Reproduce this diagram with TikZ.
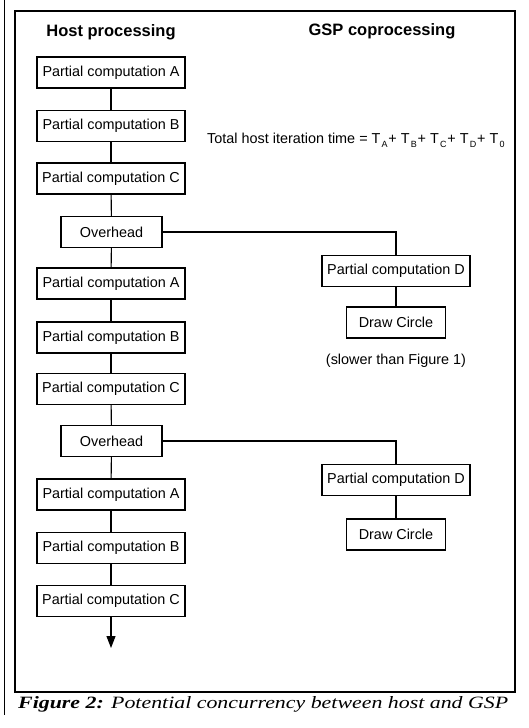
\documentclass[tikz,border=0pt]{standalone}
\usepackage{fontspec}
\usepackage{graphicx}
\setmainfont{Liberation Sans}
\newfontfamily\capfont{Liberation Serif}
\usetikzlibrary{arrows.meta}
\newcommand\Tsb[1]{T\kern1.2pt\raisebox{-4.5pt}{\fontsize{9}{9}\selectfont #1}\kern0.8pt}
\begin{document}
\begin{tikzpicture}[x=1pt,y=-1pt,
  box/.style={draw, line width=1.1pt, minimum height=31pt, inner sep=0pt,
    font=\fontsize{14.4}{16}\selectfont},
  wide/.style={box, minimum width=148pt},
  ov/.style={box, minimum width=101pt},
  dc/.style={box, minimum width=99pt},
  link/.style={line width=1.1pt},
  head/.style={inner sep=0pt, font=\fontsize{16.5}{18}\selectfont\bfseries},
  plain/.style={inner sep=0pt, font=\fontsize{14.4}{16}\selectfont}]
\useasboundingbox (0,0) rectangle (528,728);
\draw[line width=1.6pt] (15,11) rectangle (515,692);
\draw[line width=0.8pt] (4,0) -- (4,715);

\node[head] (h1) at (111,32) {Host processing};
\node[head] (h2) at (382,31) {GSP coprocessing};
\node[plain, anchor=base west] (tot) at (207,143)
  {Total host iteration time = \Tsb{A}+ \Tsb{B}+ \Tsb{C}+ \Tsb{D}+ \Tsb{0}};

\node[wide] (a1) at (111,72.5) {Partial computation A};
\node[wide] (b1) at (111,126) {Partial computation B};
\node[wide] (c1) at (111,178.5) {Partial computation C};
\node[ov] (o1) at (111.5,232) {Overhead};
\node[wide] (a2) at (111,283.5) {Partial computation A};
\node[wide] (b2) at (111,337.5) {Partial computation B};
\node[wide] (c2) at (111,389) {Partial computation C};
\node[ov] (o2) at (111.5,441) {Overhead};
\node[wide] (a3) at (111,494.5) {Partial computation A};
\node[wide] (b3) at (111,548) {Partial computation B};
\node[wide] (c3) at (111,601) {Partial computation C};

\node[wide] (d1) at (396,271) {Partial computation D};
\node[dc] (e1) at (396,322.5) {Draw Circle};
\node[plain] (slow) at (396,361) {(slower than Figure 1)};
\node[wide] (d2) at (396,480) {Partial computation D};
\node[dc] (e2) at (396,534.5) {Draw Circle};

\draw[link] (a1) -- (b1);
\draw[link] (b1) -- (c1);
\draw[link] (c1) -- (o1);
\draw[link] (o1) -- (a2);
\draw[link] (a2) -- (b2);
\draw[link] (b2) -- (c2);
\draw[link] (c2) -- (o2);
\draw[link] (o2) -- (a3);
\draw[link] (a3) -- (b3);
\draw[link] (b3) -- (c3);
\coordinate (end) at (111,648);
\draw[link,-{Triangle[length=12pt,width=9pt]}] (c3) -- (end);

\draw[link] (o1.east) -| (d1.north);
\draw[link] (d1) -- (e1);
\draw[link] (o2.east) -| (d2.north);
\draw[link] (d2) -- (e2);

\node[anchor=base west, inner sep=0pt] (cap) at (18,708)
  {\capfont\fontsize{16}{18}\selectfont\resizebox{490pt}{12pt}{\textbf{\textit{Figure 2:}} \textit{Potential concurrency between host and GSP}}};
\end{tikzpicture}
\end{document}
